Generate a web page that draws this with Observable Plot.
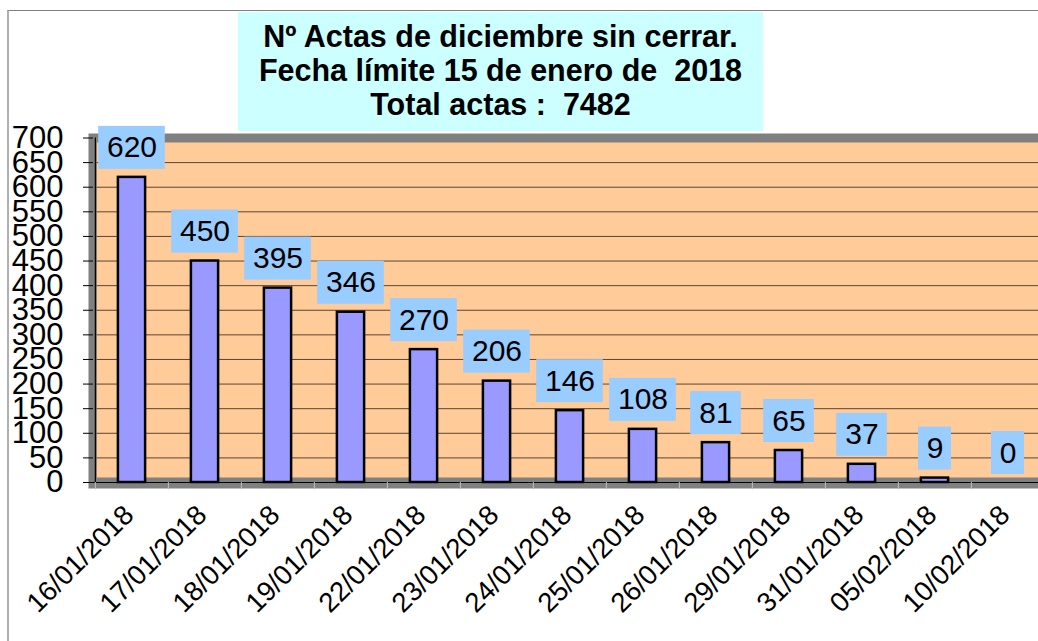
<!DOCTYPE html>
<html><head><meta charset="utf-8">
<script src="https://cdn.jsdelivr.net/npm/d3@7"></script>
<script src="https://cdn.jsdelivr.net/npm/@observablehq/plot@0.6"></script>
<style>
html,body{margin:0;padding:0;background:#fff;overflow:hidden;}
#wrap{position:relative;width:1038px;height:641px;overflow:hidden;font-family:"Liberation Sans",Arial,sans-serif;}
#border{position:absolute;left:7px;top:10px;width:1100px;height:700px;border-top:1px solid #808080;border-left:2px solid #b0b0b0;}
#title{position:absolute;left:238px;top:12px;width:525px;height:119px;background:#ccffff;font-weight:bold;font-size:30.5px;line-height:34px;text-align:center;white-space:pre;padding-top:7px;box-sizing:border-box;color:#000;}
#chart{position:absolute;left:0;top:132px;}
</style></head>
<body>
<div id="wrap">
  <div id="border"></div>
  <div id="title"></div>
  <div id="chart"></div>
</div>
<script>
const titleLines = ["Nº Actas de diciembre sin cerrar.", "Fecha límite 15 de enero de  2018", "Total actas :  7482"];
const dates = ["16/01/2018","17/01/2018","18/01/2018","19/01/2018","22/01/2018","23/01/2018","24/01/2018","25/01/2018","26/01/2018","29/01/2018","31/01/2018","05/02/2018","10/02/2018"];
const values = [620,450,395,346,270,206,146,108,81,65,37,9,0];
const yTicks = [0,50,100,150,200,250,300,350,400,450,500,550,600,650,700];

document.getElementById("title").textContent = titleLines.join("\n");

const data = dates.map((d, i) => ({date: d, value: values[i]}));
const xRange = [93, 1046];
const band = (xRange[1] - xRange[0]) / dates.length;
const digits = d => String(d.value).length;
const boxInset = {1: 20, 2: 11.2, 3: 3.2};

const chart = Plot.plot({
  width: 1038,
  height: 509,
  marginLeft: 93,
  marginRight: 0,
  marginTop: 5.5,
  marginBottom: 159,
  style: {fontFamily: "Liberation Sans, Arial, sans-serif", background: "transparent", overflow: "visible", color: "#000"},
  x: {domain: dates, range: xRange, padding: 0, axis: null},
  y: {domain: [0, 700], range: [350, 5.5], label: null},
  marks: [
    Plot.frame({fill: "#808080", insetLeft: -5, insetTop: -4.5, insetBottom: -6}),
    Plot.frame({fill: "#ffcc99", insetLeft: 3.5, insetTop: 4.5, insetBottom: 5}),
    Plot.ruleY(yTicks.filter(v => v > 0 && v < 700), {stroke: "#5a4632", strokeWidth: 1, insetLeft: 3.5}),
    Plot.ruleY([0], {stroke: "#000", strokeWidth: 1.2}),
    Plot.ruleX([dates[0]], {y1: 0, y2: 700, dx: -band / 2, stroke: "#000", strokeWidth: 1.2}),
    Plot.ruleX(dates, {y1: 0, y2: -15, dx: -band / 2, stroke: "#c0c0c0"}),
    Plot.axisY({ticks: yTicks, tickSize: 10, tickPadding: 20, fontSize: 31, label: null, tickFormat: d => String(d)}),
    Plot.barY(data, {x: "date", y: "value", fill: "#9999ff", stroke: "#000", strokeWidth: 2.5, insetLeft: 22.9, insetRight: 22.9}),
    ...[1, 2, 3].map(n => Plot.barY(data.filter(d => digits(d) === n), {
      x: "date", y1: "value", y2: "value", fill: "#99ccff",
      insetTop: -51, insetBottom: 8, insetLeft: boxInset[n], insetRight: boxInset[n]
    })),
    Plot.text(data, {x: "date", y: "value", text: d => String(d.value), dy: -29.5, fontSize: 30, fill: "#000"}),
    Plot.text(dates, {x: d => d, frameAnchor: "bottom", rotate: -45, textAnchor: "end", lineAnchor: "middle", dx: -3, dy: 28, fontSize: 27.5, fill: "#000"})
  ]
});
document.getElementById("chart").appendChild(chart);
</script>
</body></html>
